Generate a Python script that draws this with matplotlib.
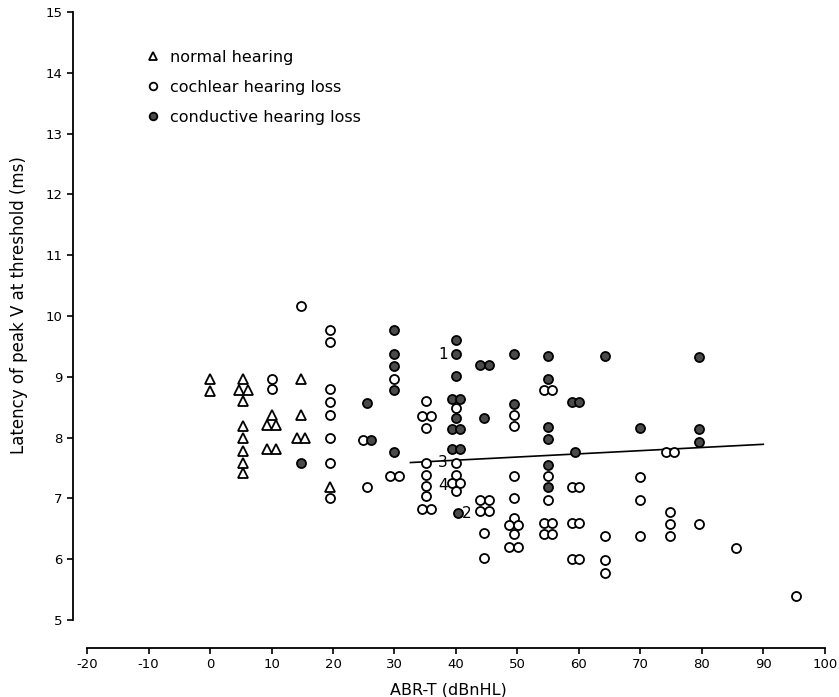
# ===============================
# 1. libraries
# ===============================
import matplotlib
matplotlib.use("Agg")
import matplotlib.pyplot as plt
from matplotlib.lines import Line2D

plt.rcParams["font.family"] = ["DejaVu Sans"]
plt.rcParams["axes.unicode_minus"] = False

# ===============================
# 2. data
# ===============================
normal_x = [0, 0, 5.4, 4.7, 6.1, 5.4, 5.4, 5.4, 5.4, 5.4, 5.4,
            10, 9.3, 10.7, 9.3, 10.7, 14.8, 14.8, 14.1, 15.5, 19.5]
normal_y = [8.97, 8.77, 8.97, 8.78, 8.78, 8.6, 8.19, 7.99, 7.78, 7.59, 7.41,
            8.38, 8.2, 8.2, 7.82, 7.82, 8.97, 8.38, 7.99, 7.99, 7.18]

cochlear_x = [10, 10, 14.8,
              19.5, 19.5, 19.5, 19.5, 19.5, 19.5, 19.5, 19.5,
              24.9, 25.5, 30, 29.3, 30.7,
              35.2, 34.5, 35.9, 35.2, 35.2, 35.2, 35.2, 35.2, 34.5, 35.9,
              40, 40, 40, 39.4, 40.6, 40,
              43.9, 45.3, 43.9, 45.3, 44.6, 44.6,
              49.4, 49.4, 49.4, 49.4, 49.4, 48.7, 50.1, 49.4, 48.7, 50.1,
              54.3, 55.7, 55, 55, 54.3, 55.7, 54.3, 55.7,
              58.9, 60.1, 58.9, 60.1, 58.9, 60.1,
              64.3, 64.3, 64.3, 70, 70, 70,
              74.1, 75.5, 74.8, 74.8, 74.8,
              79.5, 85.5, 95.3]
cochlear_y = [8.97, 8.8, 10.17,
              9.77, 9.57, 8.8, 8.59, 8.38, 7.99, 7.58, 7.0,
              7.96, 7.18, 8.97, 7.37, 7.37,
              8.6, 8.36, 8.36, 8.16, 7.59, 7.39, 7.21, 7.04, 6.83, 6.83,
              8.48, 7.59, 7.39, 7.25, 7.25, 7.13,
              6.98, 6.98, 6.8, 6.8, 6.43, 6.02,
              8.38, 8.19, 7.37, 7.0, 6.68, 6.57, 6.57, 6.42, 6.2, 6.2,
              8.78, 8.78, 7.37, 6.98, 6.6, 6.6, 6.42, 6.42,
              7.18, 7.18, 6.6, 6.6, 6.0, 6.0,
              6.38, 5.99, 5.78, 7.36, 6.97, 6.38,
              7.77, 7.77, 6.77, 6.58, 6.38,
              6.58, 6.18, 5.39]

conductive_x = [14.8, 25.5, 26.2,
                30, 30, 30, 30, 30,
                40, 40, 40, 39.3, 40.7, 40, 39.3, 40.7, 39.3, 40.7, 40.3,
                43.9, 45.3, 44.6, 49.4, 49.4,
                55, 55, 55, 55, 55, 55,
                58.9, 60.1, 59.4, 64.3, 70,
                79.5, 79.5, 79.5]
conductive_y = [7.58, 8.57, 7.96,
                9.77, 9.37, 9.17, 8.78, 7.76,
                9.6, 9.37, 9.02, 8.64, 8.64, 8.32, 8.14, 8.14, 7.81, 7.81, 6.76,
                9.19, 9.19, 8.32, 9.37, 8.56,
                9.35, 8.97, 8.17, 7.97, 7.55, 7.18,
                8.58, 8.58, 7.76, 9.34, 8.15,
                9.33, 8.14, 7.92]

# regression line end points
fit_x = [32.6, 90]
fit_y = [7.59, 7.89]

# numbered cases
case_labels = ["1", "2", "3", "4"]
case_x = [37.9, 41.0, 37.9, 37.9]
case_y = [9.37, 6.76, 7.59, 7.22]

x_ticks = list(range(-20, 101, 10))
y_ticks = list(range(5, 16))

# ===============================
# 3. plot
# ===============================
fig = plt.figure(figsize=(8.39, 6.97), dpi=100)
ax = fig.add_axes([0.087, 0.0703, 0.896, 0.9125])

mk = dict(markeredgewidth=1.3, markeredgecolor="black", linestyle="none")
ax.plot(fit_x, fit_y, color="black", lw=1.2, zorder=1)
ax.plot(normal_x, normal_y, marker="^", markersize=6.5, markerfacecolor="white", zorder=3, **mk)
ax.plot(cochlear_x, cochlear_y, marker="o", markersize=6.5, markerfacecolor="white", zorder=3, **mk)
ax.plot(conductive_x, conductive_y, marker="o", markersize=6.5, markerfacecolor="#4a4a4a", zorder=3, **mk)

for lab, cx, cy in zip(case_labels, case_x, case_y):
    ha = "left" if lab == "2" else "center"
    ax.text(cx, cy, lab, fontsize=11, ha=ha, va="center", zorder=4)

ax.set_xlim(-22.3, 100)
ax.set_ylim(4.54, 15)
ax.set_xticks(x_ticks)
ax.set_yticks(y_ticks)
ax.tick_params(labelsize=9.5, length=4, width=1.2, direction="out")
for s in ["top", "right"]:
    ax.spines[s].set_visible(False)
ax.spines["left"].set_bounds(5, 15)
ax.spines["bottom"].set_bounds(-20, 100)
ax.spines["left"].set_linewidth(1.3)
ax.spines["bottom"].set_linewidth(1.3)

ax.set_xlabel("ABR-T (dBnHL)", fontsize=11.5, labelpad=8)
ax.set_ylabel("Latency of peak V at threshold (ms)", fontsize=12)
ax.yaxis.set_label_coords(-0.060, 0.539)

# legend
handles = [
    Line2D([], [], marker="^", markersize=5.5, markerfacecolor="white", **mk),
    Line2D([], [], marker="o", markersize=5.5, markerfacecolor="white", **mk),
    Line2D([], [], marker="o", markersize=5.5, markerfacecolor="#4a4a4a", **mk),
]
ax.legend(handles, ["normal hearing", "cochlear hearing loss", "conductive hearing loss"],
          loc="upper left", bbox_to_anchor=(0.097, 0.941), frameon=False,
          fontsize=11.5, handlelength=0.9, handletextpad=0.6, labelspacing=0.95,
          borderpad=0, borderaxespad=0)

fig.savefig("out.png", dpi=100)
